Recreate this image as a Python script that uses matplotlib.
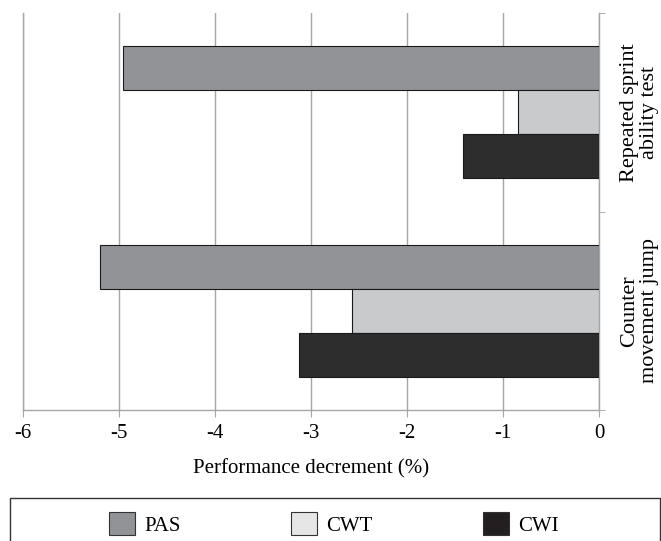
import numpy as np
import matplotlib.pyplot as plt
from matplotlib.patches import Rectangle

plt.rcParams['font.family'] = ['Liberation Serif', 'DejaVu Serif']

# 数据
categories = ["Counter\nmovement jump", "Repeated sprint\nability test"]
series_names = ["PAS", "CWT", "CWI"]
pas_vals = [-5.20, -4.96]
cwt_vals = [-2.57, -0.84]
cwi_vals = [-3.13, -1.42]
x_ticks = [-6, -5, -4, -3, -2, -1, 0]

colors = {"PAS": "#929396", "CWT": "#c9cacc", "CWI": "#2e2d2e"}
legend_colors = {"PAS": "#929396", "CWT": "#e6e6e6", "CWI": "#231f20"}

W, H = 661, 541
fig = plt.figure(figsize=(W / 100, H / 100), dpi=100)
ax = fig.add_axes([23 / W, 1 - 410 / H, 576 / W, 397 / H])

y = np.arange(len(categories))
h = 0.222
for offset, name, vals in zip([h, 0, -h], series_names, [pas_vals, cwt_vals, cwi_vals]):
    ax.barh(y + offset, vals, height=h, color=colors[name],
            edgecolor="#1a1a1a", linewidth=0.8, zorder=3)

ax.set_xlim(-6, 0)
ax.set_ylim(-0.5, 1.5)
ax.set_xticks(x_ticks)
ax.set_xticklabels([str(t) for t in x_ticks], fontsize=15)
ax.grid(axis='x', color="#a6a6a6", linewidth=1.0, zorder=0)

# 右侧类别标签
ax.yaxis.tick_right()
ax.set_yticks(y)
ax.set_yticklabels(categories, rotation=90, va='center', ha='center',
                   fontsize=16, linespacing=1.05)
ax.tick_params(axis='y', which='major', length=0, pad=29)
ax.set_yticks([-0.5, 0.5, 1.5], minor=True)
ax.tick_params(axis='y', which='minor', length=4, color="#a6a6a6", right=True)
ax.tick_params(axis='x', length=5, color="#a6a6a6", pad=5)

for s in ['left', 'bottom', 'right']:
    ax.spines[s].set_color("#a6a6a6")
    ax.spines[s].set_linewidth(1.0)
ax.spines['top'].set_visible(False)

ax.set_xlabel("Performance decrement (%)", fontsize=15, labelpad=12)

# 图例外框（底边在画布外）
fig.patches.append(Rectangle((10 / W, -6 / H), 650 / W, 49 / H,
                             transform=fig.transFigure, fill=False,
                             edgecolor="#333333", linewidth=1.0))
handles = [Rectangle((0, 0), 1, 1, facecolor=legend_colors[n], edgecolor="#333333",
                     linewidth=0.8) for n in series_names]
fig.legend(handles, series_names, loc='center', ncol=3, frameon=False,
           bbox_to_anchor=(334 / W, 1 - 524 / H), fontsize=15,
           handlelength=1.25, handleheight=1.25, handletextpad=0.43,
           columnspacing=5.3, borderaxespad=0, borderpad=0)

fig.savefig("out.png", dpi=100)
